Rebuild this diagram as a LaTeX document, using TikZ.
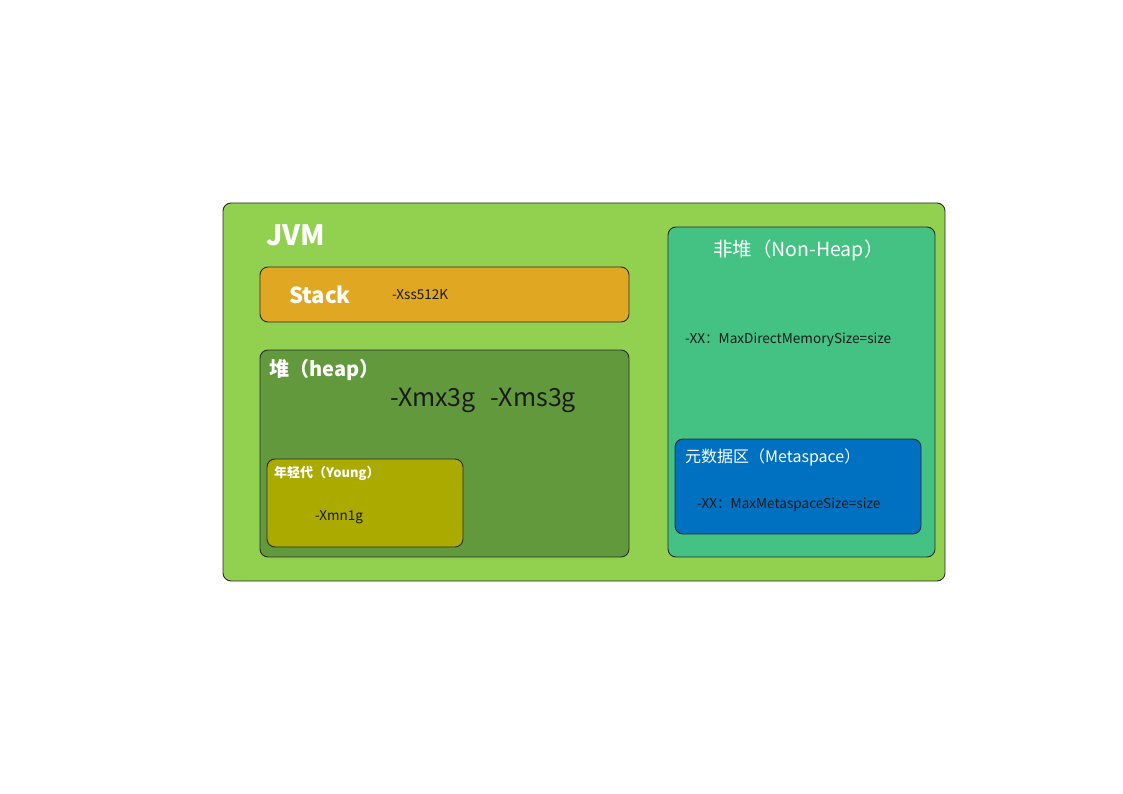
\documentclass[tikz,border=0pt]{standalone}
\usepackage{fontspec}
\setmainfont{Noto Sans CJK SC}
\usepackage{tikz}

\definecolor{jvmgreen}{HTML}{92D050}
\definecolor{stackorange}{HTML}{E0A822}
\definecolor{heapgreen}{HTML}{63993D}
\definecolor{youngolive}{HTML}{AAAA00}
\definecolor{nonheapgreen}{HTML}{43C283}
\definecolor{metablue}{HTML}{0070C0}
\definecolor{edgegray}{HTML}{2B2B2B}
\definecolor{txtdark}{HTML}{1A1A1A}

\tikzset{
  area/.style={draw=edgegray,line width=0.9pt,rounded corners=8pt,inner sep=0pt},
  title/.style={text=white,font=\bfseries,inner sep=0pt},
  param/.style={text=txtdark,inner sep=0pt}
}

\begin{document}
\begin{tikzpicture}[x=1pt,y=-1pt]
\useasboundingbox (0,0) rectangle (1123,794);
% outer frame
\node[area,fill=jvmgreen,minimum width=722pt,minimum height=378pt] (jvm) at (584,392) {};
\node[title,font=\bfseries\fontsize{28}{28}\selectfont] (jvmlbl) at (296,235) {JVM};
% stack
\node[area,fill=stackorange,minimum width=369pt,minimum height=55pt] (stack) at (444.5,294.5) {};
\node[title,font=\bfseries\fontsize{22}{22}\selectfont] (stacklbl) at (320,295) {Stack};
\node[param,anchor=west,font=\fontsize{13.5}{13.5}\selectfont] (xss) at (392,295) {-Xss512K};
% heap
\node[area,fill=heapgreen,minimum width=369pt,minimum height=207pt] (heap) at (444.5,453.5) {};
\node[title,anchor=west,font=\bfseries\fontsize{20}{20}\selectfont] (heaplbl) at (269,370) {堆（heap）};
\node[param,font=\fontsize{25}{25}\selectfont] (xmx) at (483,400) {-Xmx3g\hspace{0.6em}-Xms3g};
% young generation
\node[area,fill=youngolive,minimum width=196pt,minimum height=88pt] (young) at (365,503) {};
\node[title,anchor=west,font=\bfseries\fontsize{13}{13}\selectfont] (younglbl) at (274,473) {年轻代（Young）};
\node[param,anchor=west,font=\fontsize{13.5}{13.5}\selectfont] (xmn) at (315,517) {-Xmn1g};
% non-heap
\node[area,fill=nonheapgreen,minimum width=267pt,minimum height=330pt] (nonheap) at (801.5,392) {};
\node[title,anchor=west,font=\fontsize{19.5}{19.5}\selectfont] (nonheaplbl) at (713,250) {非堆（Non-Heap）};
\node[param,anchor=west,font=\fontsize{13.6}{13.6}\selectfont] (direct) at (685,340) {-XX：MaxDirectMemorySize=size};
% metaspace
\node[area,fill=metablue,minimum width=246pt,minimum height=95pt] (meta) at (798,486.5) {};
\node[title,anchor=west,font=\fontsize{16}{16}\selectfont] (metalbl) at (685,457) {元数据区（Metaspace）};
\node[param,anchor=west,font=\fontsize{13.6}{13.6}\selectfont] (metasize) at (697,505) {-XX：MaxMetaspaceSize=size};
\end{tikzpicture}
\end{document}
